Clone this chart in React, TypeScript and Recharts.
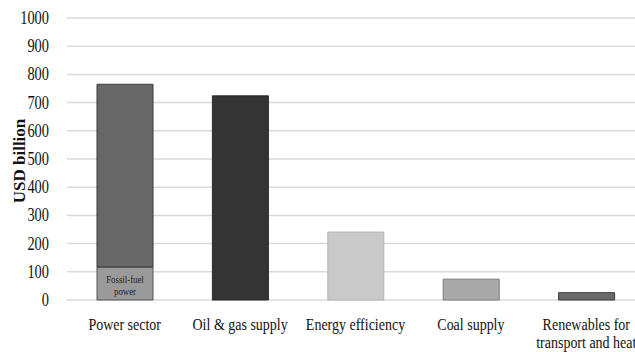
import { Bar, BarChart, CartesianGrid, Cell, LabelList, XAxis, YAxis } from "recharts";

const categories = [
  "Power sector",
  "Oil & gas supply",
  "Energy efficiency",
  "Coal supply",
  "Renewables for\ntransport and heat",
];
const fossilPower = [117, 0, 0, 0, 0];
const mainValues = [648, 724, 241, 74, 26];
const yTicks = [0, 100, 200, 300, 400, 500, 600, 700, 800, 900, 1000];

const mainFills = ["#676767", "#343434", "#c9c9c9", "#a9a9a9", "#6a6a6a"];
const mainStrokes = ["#3a3a3a", "#2a2a2a", "#b5b5b5", "#7a7a7a", "#3a3a3a"];

const data = categories.map((name, i) => ({
  name,
  fossil: fossilPower[i],
  main: mainValues[i],
}));

const font = "'Liberation Serif', 'Times New Roman', serif";
// the source picture is squeezed sideways, so text is narrowed to match
const squeeze = 0.8;

function CategoryTick(props: any) {
  const { x, y, payload } = props;
  const lines = String(payload.value).split("\n");
  return (
    <g transform={`translate(${x},${y}) scale(${squeeze},1)`}>
      <text x={0} y={22} textAnchor="middle" fill="#111" fontSize={17.5} fontFamily={font}>
        {lines.map((l, i) => (
          <tspan key={i} x={0} dy={i === 0 ? 0 : 18.5}>
            {l}
          </tspan>
        ))}
      </text>
    </g>
  );
}

function ValueTick(props: any) {
  const { x, y, payload } = props;
  return (
    <g transform={`translate(${x - 10},${y}) scale(${squeeze},1)`}>
      <text x={0} y={6} textAnchor="end" fill="#111" fontSize={18} fontFamily={font}>
        {payload.value}
      </text>
    </g>
  );
}

function FossilLabel(props: any) {
  const { x, y, width, height, value } = props;
  if (!value) return null;
  const cx = x + width / 2;
  const cy = y + height / 2;
  return (
    <g transform={`translate(${cx},${cy}) scale(${squeeze},1)`}>
      <text textAnchor="middle" fill="#222" fontSize={11} fontFamily={font}>
        <tspan x={0} y={-1}>Fossil-fuel</tspan>
        <tspan x={0} y={12}>power</tspan>
      </text>
    </g>
  );
}

export default function App() {
  return (
    <div style={{ position: "fixed", left: 0, top: 0, width: 635, height: 352, overflow: "hidden", background: "#fff" }}>
      <BarChart
        width={660}
        height={352}
        data={data}
        margin={{ top: 18, right: 16, bottom: 0, left: 0 }}
        barCategoryGap="25%"
      >
        <CartesianGrid vertical={false} stroke="#d9d9d9" strokeWidth={1.5} />
        <XAxis
          dataKey="name"
          axisLine={false}
          tickLine={false}
          tick={<CategoryTick />}
          interval={0}
          height={52}
        />
        <YAxis
          domain={[0, 1000]}
          ticks={yTicks}
          axisLine={false}
          tickLine={false}
          width={67}
          tick={<ValueTick />}
          label={{
            value: "USD billion",
            angle: -90,
            position: "insideLeft",
            dx: 14,
            dy: 2,
            style: { fontWeight: "bold", fontSize: 17, fontFamily: font, fill: "#111", textAnchor: "middle" },
          }}
        />
        <Bar dataKey="fossil" stackId="a" fill="#9a9a9a" stroke="#555" strokeWidth={1} isAnimationActive={false} barSize={56}>
          <LabelList dataKey="fossil" content={<FossilLabel />} />
        </Bar>
        <Bar dataKey="main" stackId="a" isAnimationActive={false} barSize={56} strokeWidth={1}>
          {data.map((_, i) => (
            <Cell key={i} fill={mainFills[i]} stroke={mainStrokes[i]} />
          ))}
        </Bar>
      </BarChart>
    </div>
  );
}
